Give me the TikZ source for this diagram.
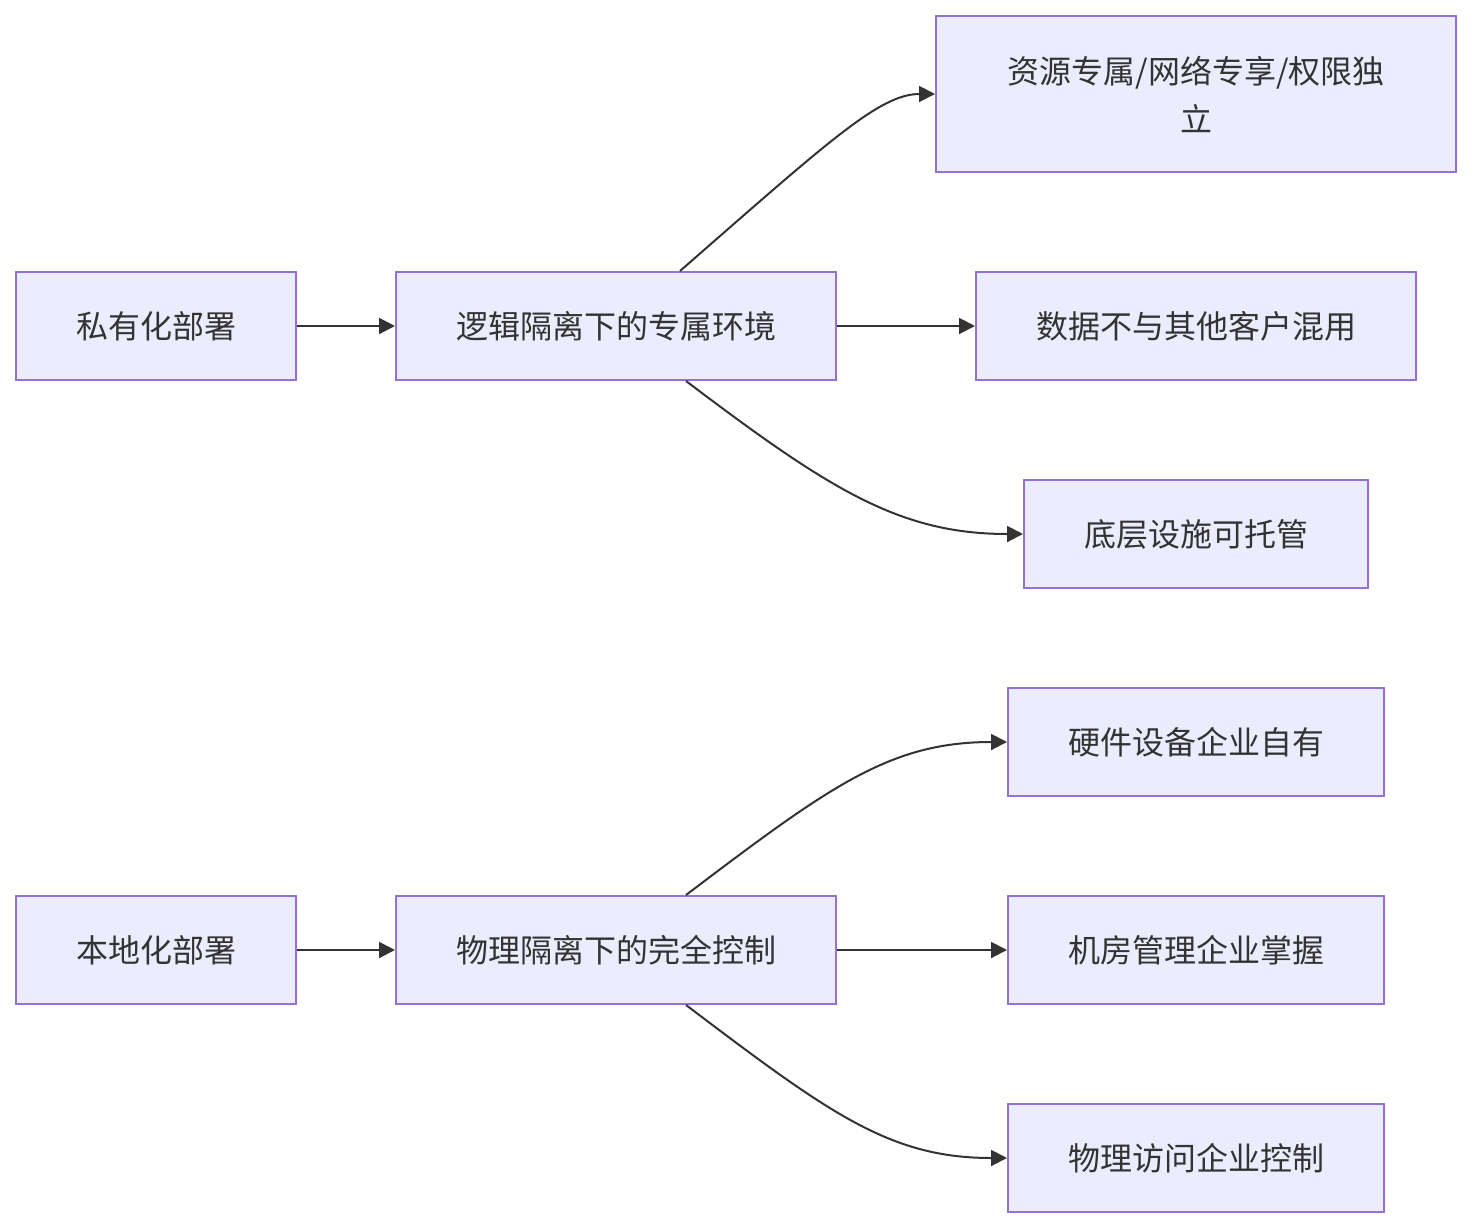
\documentclass[tikz,border=0pt]{standalone}
\usepackage{fontspec}
\setmainfont{Noto Sans CJK SC}
\usetikzlibrary{arrows.meta}
\definecolor{boxfill}{HTML}{ECECFF}
\definecolor{boxline}{HTML}{9370DB}
\definecolor{ink}{HTML}{333333}
\begin{document}
\begin{tikzpicture}[x=1pt,y=-1pt,
  box/.style={draw=boxline,fill=boxfill,line width=2pt,inner sep=0pt,text=ink,
    font=\fontsize{32}{48}\selectfont,align=center},
  conn/.style={draw=ink,line width=2pt,-{Triangle[length=16pt,width=16pt]}}]
\useasboundingbox (0,0) rectangle (1472,1228);
\node[box,minimum width=280pt,minimum height=108pt] (a) at (156,326) {私有化部署};
\node[box,minimum width=440pt,minimum height=108pt] (b) at (616,326) {逻辑隔离下的专属环境};
\node[box,minimum width=520pt,minimum height=156pt] (c) at (1196,94) {资源专属/网络专享/权限独\\立};
\node[box,minimum width=440pt,minimum height=108pt] (d) at (1196,326) {数据不与其他客户混用};
\node[box,minimum width=344pt,minimum height=108pt] (e) at (1196,534) {底层设施可托管};
\node[box,minimum width=376pt,minimum height=108pt] (f) at (1196,742) {硬件设备企业自有};
\node[box,minimum width=280pt,minimum height=108pt] (g) at (156,950) {本地化部署};
\node[box,minimum width=440pt,minimum height=108pt] (h) at (616,950) {物理隔离下的完全控制};
\node[box,minimum width=376pt,minimum height=108pt] (i) at (1196,950) {机房管理企业掌握};
\node[box,minimum width=376pt,minimum height=108pt] (j) at (1196,1158) {物理访问企业控制};
\draw[conn] (a.east) -- (b.west);
\draw[conn] (g.east) -- (h.west);
\draw[conn] (b.east) -- (d.west);
\draw[conn] (h.east) -- (i.west);
\draw[conn] ([xshift=64pt]b.north) .. controls (830,140) and (880,94) .. (c.west);
\draw[conn] ([xshift=70pt]b.south) .. controls (830,490) and (900,534) .. (e.west);
\draw[conn] ([xshift=70pt]h.north) .. controls (830,786) and (890,742) .. (f.west);
\draw[conn] ([xshift=70pt]h.south) .. controls (830,1114) and (890,1158) .. (j.west);
\end{tikzpicture}
\end{document}
